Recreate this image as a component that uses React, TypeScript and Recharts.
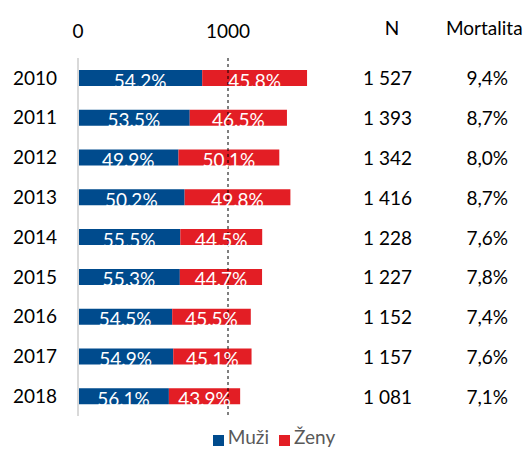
import React from "react";
import { BarChart, Bar, XAxis, YAxis, ReferenceLine, Legend, LabelList } from "recharts";

const years = ["2010", "2011", "2012", "2013", "2014", "2015", "2016", "2017", "2018"];
const muzi = [828, 745, 670, 711, 682, 679, 628, 635, 606];
const zeny = [699, 648, 672, 705, 546, 548, 524, 522, 475];
const muziPct = ["54,2%", "53,5%", "49,9%", "50,2%", "55,5%", "55,3%", "54,5%", "54,9%", "56,1%"];
const zenyPct = ["45,8%", "46,5%", "50,1%", "49,8%", "44,5%", "44,7%", "45,5%", "45,1%", "43,9%"];
const nLabels = ["1 527", "1 393", "1 342", "1 416", "1 228", "1 227", "1 152", "1 157", "1 081"];
const mortality = ["9,4%", "8,7%", "8,0%", "8,7%", "7,6%", "7,8%", "7,4%", "7,6%", "7,1%"];
const xTicks = [0, 1000];

const data = years.map((y, i) => ({
  year: y,
  muzi: muzi[i],
  zeny: zeny[i],
  muziPct: muziPct[i],
  zenyPct: zenyPct[i],
  n: nLabels[i],
  mort: mortality[i],
}));

const FONT = "Lato, 'DejaVu Sans', sans-serif";
const FS = 19;
const BLUE = "#004B8D";
const RED = "#E31E25";

const inBarLabel = (props: any) => {
  const { x, y, width, height, value } = props;
  return (
    <text
      x={x + width / 2}
      y={y + height / 2 + 2}
      textAnchor="middle"
      dominantBaseline="central"
      fill="#fff"
      fontSize={FS}
      fontFamily={FONT}
    >
      {value}
    </text>
  );
};

const RightTick = (props: any) => {
  const { x, y, index } = props;
  const d = data[index];
  if (!d) return null;
  return (
    <g fontFamily={FONT} fontSize={FS} fill="#000">
      {index === 0 && (
        <>
          <text x={x + 14} y={y - 50} textAnchor="middle" dominantBaseline="central">N</text>
          <text x={x + 68} y={y - 50} textAnchor="start" dominantBaseline="central">Mortalita</text>
        </>
      )}
      <text x={x + 34} y={y} textAnchor="end" dominantBaseline="central">{d.n}</text>
      <text x={x + 130} y={y} textAnchor="end" dominantBaseline="central">{d.mort}</text>
    </g>
  );
};

const legendFormatter = (value: string) => (
  <span style={{ color: "#595959", fontSize: FS, fontFamily: FONT }}>{value}</span>
);

export default function App() {
  return (
    <div style={{ position: "absolute", left: 0, top: 0, background: "#fff" }}>
      <BarChart
        width={532}
        height={450}
        data={data}
        layout="vertical"
        margin={{ top: 30, right: 0, bottom: 10, left: 0 }}
        barCategoryGap={0}
      >
        <XAxis
          type="number"
          orientation="top"
          domain={[0, 2000]}
          ticks={xTicks}
          axisLine={false}
          tickLine={false}
          tickSize={0}
          tickMargin={20}
          height={28}
          tick={{ fontSize: FS, fill: "#000", fontFamily: FONT }}
        />
        <YAxis
          yAxisId={0}
          type="category"
          dataKey="year"
          width={78}
          tickLine={false}
          tickSize={0}
          tickMargin={21}
          axisLine={{ stroke: "#d9d9d9", strokeWidth: 2 }}
          tick={{ fontSize: FS, fill: "#000", fontFamily: FONT }}
        />
        <YAxis
          yAxisId="right"
          orientation="right"
          type="category"
          dataKey="year"
          width={154}
          tickLine={false}
          tickSize={0}
          tickMargin={0}
          axisLine={false}
          tick={<RightTick />}
        />
        <ReferenceLine x={1000} stroke="#000" strokeDasharray="3 3" strokeWidth={1} />
        <Bar dataKey="muzi" name="Muži" stackId="a" fill={BLUE} barSize={16} isAnimationActive={false}>
          <LabelList dataKey="muziPct" content={inBarLabel} />
        </Bar>
        <Bar dataKey="zeny" name="Ženy" stackId="a" fill={RED} barSize={16} isAnimationActive={false}>
          <LabelList dataKey="zenyPct" content={inBarLabel} />
        </Bar>
        <Legend
          verticalAlign="bottom"
          iconType="square"
          iconSize={11}
          formatter={legendFormatter}
          wrapperStyle={{ top: 426, left: 13, lineHeight: "22px" }}
        />
      </BarChart>
    </div>
  );
}
